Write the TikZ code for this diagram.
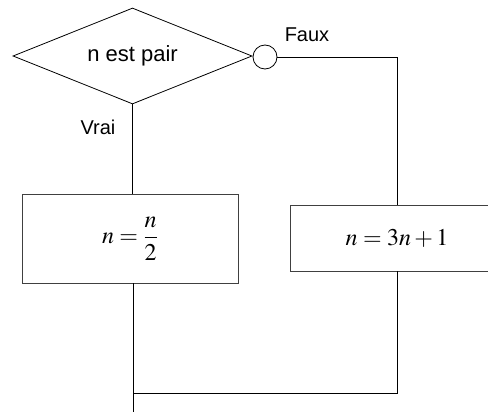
\documentclass[tikz,border=0pt]{standalone}
\usepackage{mathptmx}
\usepackage{fontspec}
\setmainfont{Liberation Sans}
\usetikzlibrary{shapes.geometric}
\tikzset{
  ln/.style={draw=black, line width=0.8pt},
  dia/.style={diamond, draw=black, line width=0.8pt, minimum width=239pt, minimum height=96pt, inner sep=0pt, aspect=2.5, font=\fontsize{22}{26}\selectfont},
  conn/.style={circle, draw=black, line width=0.8pt, minimum size=24pt, inner sep=0pt},
  procbox/.style={rectangle, draw=black!75, line width=0.9pt, inner sep=0pt, font=\fontsize{24}{28}\selectfont},
  lbl/.style={inner sep=0pt, font=\fontsize{20}{24}\selectfont}
}
\begin{document}
\begin{tikzpicture}[x=1pt, y=-1pt]
\useasboundingbox (0,0) rectangle (488,412);
\clip (0,0) rectangle (488,412);
\node[dia] (test) at (132.5,56) {n est pair};
\node[conn] (c) at (265,57) {};
\node[procbox, minimum width=216pt, minimum height=89pt] (lbox) at (130,238.5) {$\displaystyle n=\frac{n}{2}$};
\node[procbox, minimum width=214pt, minimum height=66pt] (rbox) at (397,238) {$n=3n+1$};
\node[lbl] (vrai) at (98,127) {Vrai};
\node[lbl] (faux) at (307,35) {Faux};
\coordinate (bot) at (133,412);
\coordinate (join) at (133,393);
\draw[ln] (test.south) -- (test.south |- lbox.north);
\draw[ln] (c.east) -| (rbox.north);
\draw[ln] (lbox.south -| bot) -- (bot);
\draw[ln] (rbox.south) |- (join);
\end{tikzpicture}
\end{document}
